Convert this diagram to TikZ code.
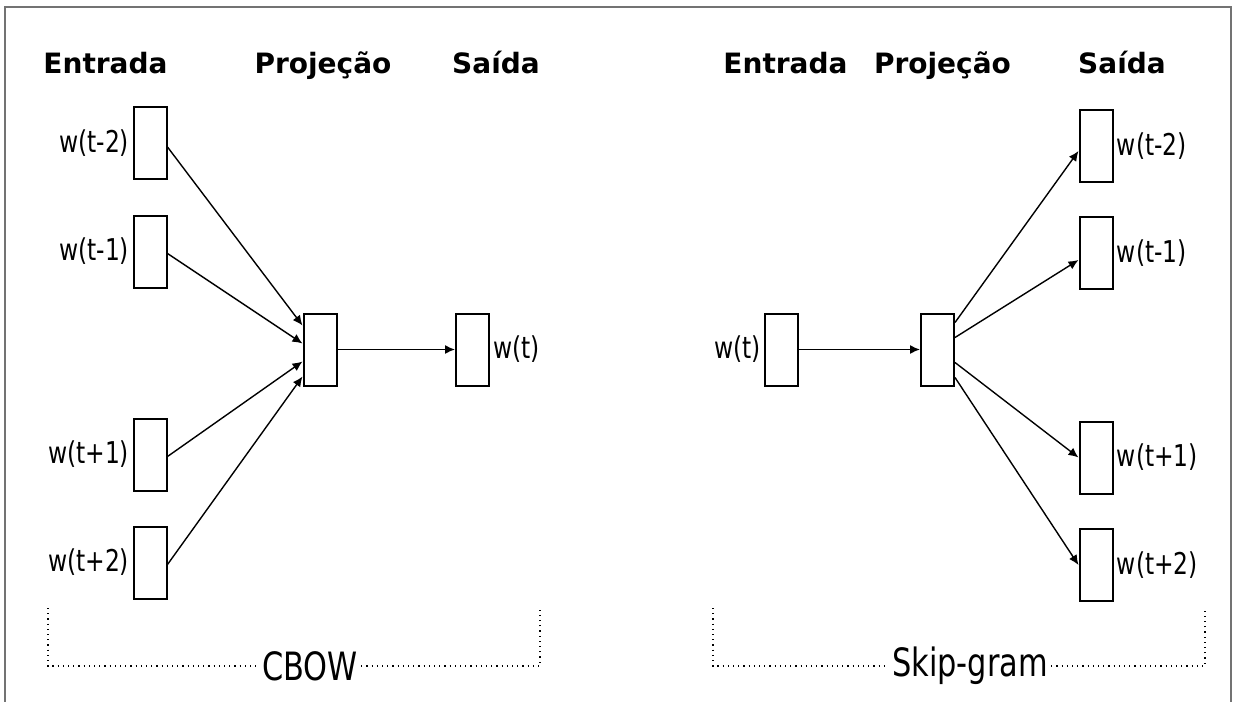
\documentclass[tikz,border=0pt]{standalone}
\usepackage{fontspec}
\setmainfont{DejaVu Sans}
\newfontfamily\narrowfont{DejaVu Sans}[FakeStretch=0.78]
\usetikzlibrary{arrows.meta}

\begin{document}
\begin{tikzpicture}
  [x=0.5pt, y=-0.5pt, >={Latex[length=5pt,width=4.5pt]}]
  \tikzset{vec/.style={draw, line width=1pt, minimum width=16.5pt, minimum height=36pt, inner sep=0pt}}
  \tikzset{wlab/.style={font=\narrowfont\fontsize{15}{17}\selectfont, inner sep=1.5pt}}
  \tikzset{title/.style={font=\bfseries\fontsize{14}{16}\selectfont, anchor=base}}
  \tikzset{group/.style={font=\narrowfont\fontsize{19.5}{22}\selectfont, inner sep=1.5pt}}
  \tikzset{link/.style={->, line width=0.7pt}}
  \tikzset{bracket/.style={dotted, line width=0.6pt}}
  \tikzset{frame/.style={draw=black!55, line width=1pt}}

  \useasboundingbox (0,0) rectangle (1233,702);
  \draw[frame] (5,702) -- (5,7) -- (1231,7) -- (1231,702);

  % CBOW
  \node[title] (cin)   at (105.5,73) {Entrada};
  \node[title] (cproj) at (323,73)   {Projeção};
  \node[title] (cout)  at (496,73)   {Saída};

  \node[vec, label={[wlab]left:w(t-2)}] (A1) at (150,143)   {};
  \node[vec, label={[wlab]left:w(t-1)}] (A2) at (150,251.5) {};
  \node[vec, label={[wlab]left:w(t+1)}] (A3) at (150,454.5) {};
  \node[vec, label={[wlab]left:w(t+2)}] (A4) at (150,562.5) {};
  \node[vec] (P) at (320,349.5) {};
  \node[vec, label={[wlab]right:w(t)}] (W) at (472.5,349.5) {};

  \draw[link] ([yshift=-2pt]A1.east) -- ([yshift=12pt]P.west);
  \draw[link] ([yshift=-1pt]A2.east) -- ([yshift=3pt]P.west);
  \draw[link] ([yshift=-1pt]A3.east) -- ([yshift=-6pt]P.west);
  \draw[link] ([yshift=-1pt]A4.east) -- ([yshift=-13.5pt]P.west);
  \draw[link] (P.east) -- (W.west);

  \node[group] (cbow) at (310,666) {CBOW};
  \coordinate (cb1) at (48,608);
  \coordinate (cb2) at (48,666);
  \coordinate (cb3) at (540,666);
  \coordinate (cb4) at (540,608);
  \draw[bracket] (cb1) -- (cb2) -- (cbow.west);
  \draw[bracket] (cbow.east) -- (cb3) -- (cb4);

  % Skip-gram
  \node[title] (sin)   at (785.5,73) {Entrada};
  \node[title] (sproj) at (942.5,73) {Projeção};
  \node[title] (sout)  at (1122,73)  {Saída};

  \node[vec, label={[wlab]left:w(t)}] (S) at (781.5,349.5) {};
  \node[vec] (Q) at (937.5,349.5) {};
  \node[vec, label={[wlab]right:w(t-2)}] (B1) at (1096,146)   {};
  \node[vec, label={[wlab]right:w(t-1)}] (B2) at (1096,253)   {};
  \node[vec, label={[wlab]right:w(t+1)}] (B3) at (1096,457.5) {};
  \node[vec, label={[wlab]right:w(t+2)}] (B4) at (1096,565)   {};

  \draw[link] (S.east) -- (Q.west);
  \draw[link] ([yshift=13.5pt]Q.east) -- ([yshift=-2.5pt]B1.west);
  \draw[link] ([yshift=6pt]Q.east)    -- ([yshift=-3.5pt]B2.west);
  \draw[link] ([yshift=-6.5pt]Q.east) -- (B3.west);
  \draw[link] ([yshift=-14pt]Q.east)  -- (B4.west);

  \node[group] (skip) at (970,666) {Skip-gram};
  \coordinate (sk1) at (713,608);
  \coordinate (sk2) at (713,666);
  \coordinate (sk3) at (1205,666);
  \coordinate (sk4) at (1205,608);
  \draw[bracket] (sk1) -- (sk2) -- (skip.west);
  \draw[bracket] (skip.east) -- (sk3) -- (sk4);
\end{tikzpicture}
\end{document}
